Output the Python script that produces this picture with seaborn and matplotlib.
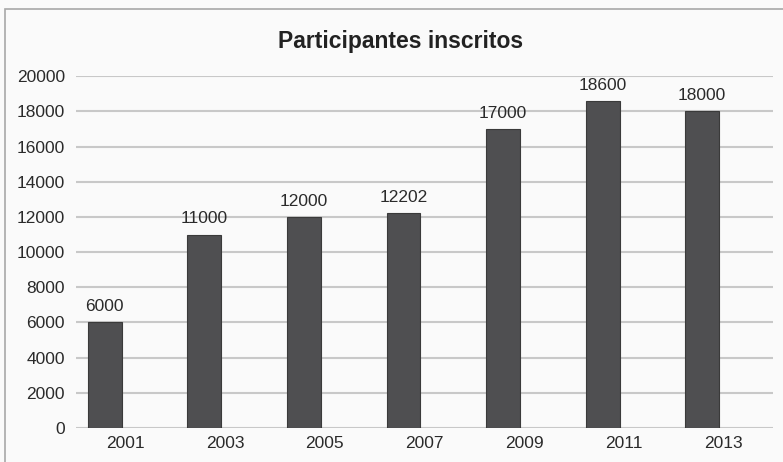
import matplotlib
matplotlib.use("Agg")
import matplotlib.pyplot as plt
import matplotlib.patches as mpatches
import seaborn as sns
import pandas as pd

years = ["2001", "2003", "2005", "2007", "2009", "2011", "2013"]
inscritos = [6000, 11000, 12000, 12202, 17000, 18600, 18000]
yticks = [0, 2000, 4000, 6000, 8000, 10000, 12000, 14000, 16000, 18000, 20000]
title = "Participantes inscritos"

sns.set_theme(style="white")
plt.rcParams['font.family'] = ['Liberation Sans', 'DejaVu Sans']

df = pd.DataFrame({"year": years, "value": inscritos, "serie": ["Inscritos"] * len(years)})

fig = plt.figure(figsize=(7.83, 4.62), dpi=100)
fig.patch.set_facecolor("#fafafa")
ax = fig.add_axes([0.097, 0.0736, 0.890, 0.7614])
ax.set_facecolor("#fafafa")

sns.barplot(data=df, x="year", y="value", hue="serie", hue_order=["Inscritos", "_vacío"],
            palette={"Inscritos": "#4f4f51", "_vacío": "#4f4f51"},
            width=0.84, gap=0.19, dodge=True, legend=False, ax=ax,
            edgecolor="#3a3a3a", linewidth=0.8, errorbar=None, zorder=3)

for c in ax.containers:
    ax.bar_label(c, labels=[f"{v:.0f}" for v in c.datavalues], padding=6,
                 fontsize=12.5, color="#2a2a2a")

ax.set_ylim(0, 20000)
ax.set_xlim(-0.5, len(years) - 0.5)
ax.set_yticks(yticks)
ax.set_yticklabels([str(t) for t in yticks])
ax.yaxis.grid(True, color="#c8c8c8", linewidth=1.5, zorder=0)
ax.set_axisbelow(True)
ax.tick_params(axis="both", length=0, labelsize=12.5, labelcolor="#2a2a2a")
ax.tick_params(axis="y", pad=8)
ax.tick_params(axis="x", pad=6)
ax.set_xlabel("")
ax.set_ylabel("")
for s in ax.spines.values():
    s.set_visible(False)

fig.text(0.511, 0.91, title, ha="center", va="center", fontsize=16.5,
         fontweight="bold", color="#222222")

frame = mpatches.Rectangle((5 / 783, -0.05), 1.2, (462 - 9) / 462 + 0.05,
                           transform=fig.transFigure, fill=False,
                           edgecolor="#a8a8a8", linewidth=1.2)
fig.patches.append(frame)

fig.savefig("out.png", dpi=100, facecolor=fig.get_facecolor())
